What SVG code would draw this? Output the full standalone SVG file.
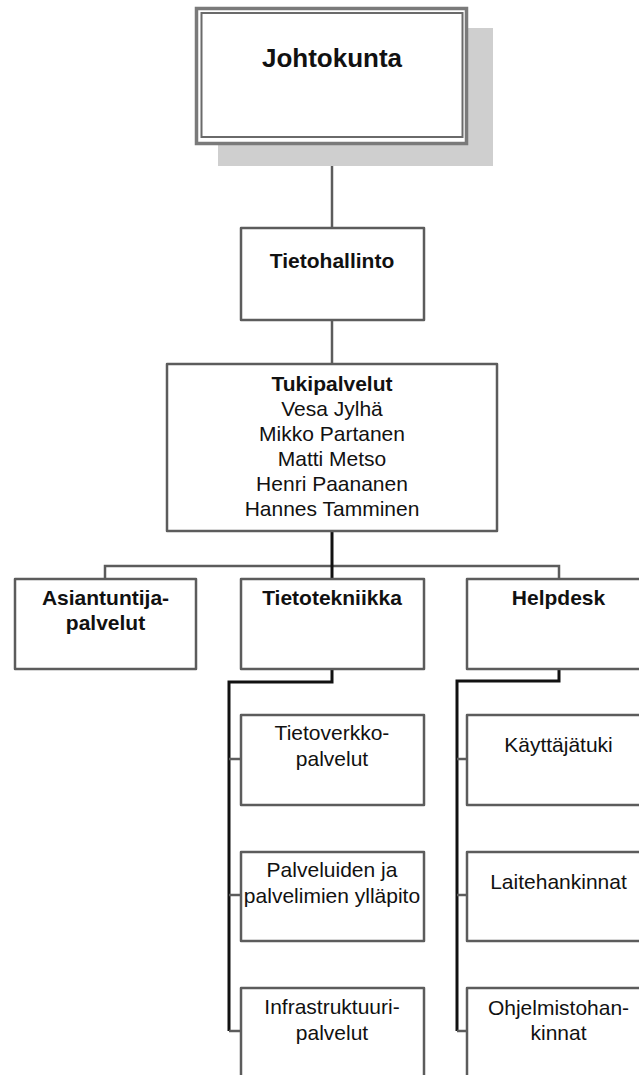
<svg xmlns="http://www.w3.org/2000/svg" width="639" height="1075" viewBox="0 0 639 1075">
  <style>
    .box { fill: #ffffff; stroke: #5c5c5c; stroke-width: 2.5; stroke-linejoin: round; }
    .link { fill: none; stroke: #5c5c5c; stroke-width: 2.5; }
    .trunk { fill: none; stroke: #111111; stroke-width: 3; stroke-linejoin: miter; }
    text { font-family: "Liberation Sans", Arial, sans-serif; font-size: 21px; fill: #111111; text-anchor: middle; }
    .b { font-weight: bold; }
    .title { font-size: 26px; font-weight: bold; }
  </style>

  <rect width="639" height="1075" fill="#ffffff"/>

  <!-- connectors -->
  <g id="connectors">
    <line class="link" x1="332" y1="144" x2="332" y2="228"/>
    <line class="link" x1="332" y1="320" x2="332" y2="364"/>
    <polyline class="link" points="105,579 105,566 559,566 559,579"/>
    <line class="trunk" x1="332" y1="531" x2="332" y2="579"/>
    <!-- Tietotekniikka branch -->
    <polyline class="trunk" points="332,669 332,682 229,682 229,1031"/>
    <line class="link" x1="229" y1="759" x2="241" y2="759"/>
    <line class="link" x1="229" y1="895" x2="241" y2="895"/>
    <line class="link" x1="229" y1="1031" x2="241" y2="1031"/>
    <!-- Helpdesk branch -->
    <polyline class="trunk" points="559,669 559,681 457,681 457,1031"/>
    <line class="link" x1="457" y1="759" x2="467" y2="759"/>
    <line class="link" x1="457" y1="895" x2="467" y2="895"/>
    <line class="link" x1="457" y1="1031" x2="467" y2="1031"/>
  </g>

  <!-- board, framed with a double border and a drop shadow -->
  <g id="johtokunta">
    <rect x="218" y="28" width="275" height="138" fill="#cfcfcf"/>
    <rect x="196.5" y="8.5" width="270" height="135" fill="#ffffff" stroke="#7a7a7a" stroke-width="3.5"/>
    <rect x="201.5" y="13" width="261" height="124" fill="none" stroke="#6a6a6a" stroke-width="2"/>
    <text class="title" x="332" y="67">Johtokunta</text>
  </g>

  <g id="tietohallinto">
    <rect class="box" x="241" y="228" width="183" height="92"/>
    <text class="b" x="332" y="268">Tietohallinto</text>
  </g>

  <g id="tukipalvelut">
    <rect class="box" x="167" y="364" width="330" height="167"/>
    <text class="b" x="332" y="391">Tukipalvelut</text>
    <text x="332" y="416">Vesa Jylhä</text>
    <text x="332" y="441">Mikko Partanen</text>
    <text x="332" y="466">Matti Metso</text>
    <text x="332" y="491">Henri Paananen</text>
    <text x="332" y="516">Hannes Tamminen</text>
  </g>

  <g id="asiantuntijapalvelut">
    <rect class="box" x="15" y="579" width="181" height="90"/>
    <text class="b" x="105.5" y="605">Asiantuntija-</text>
    <text class="b" x="105.5" y="630">palvelut</text>
  </g>

  <g id="tietotekniikka">
    <rect class="box" x="241" y="579" width="183" height="90"/>
    <text class="b" x="332" y="605">Tietotekniikka</text>
  </g>

  <g id="helpdesk">
    <rect class="box" x="467" y="579" width="183" height="90"/>
    <text class="b" x="558.5" y="605">Helpdesk</text>
  </g>

  <g id="tietoverkkopalvelut">
    <rect class="box" x="241" y="715" width="183" height="90"/>
    <text x="332" y="740">Tietoverkko-</text>
    <text x="332" y="766">palvelut</text>
  </g>

  <g id="yllapito">
    <rect class="box" x="241" y="852" width="183" height="89"/>
    <text x="332" y="877">Palveluiden ja</text>
    <text x="332" y="903">palvelimien ylläpito</text>
  </g>

  <g id="infrastruktuuripalvelut">
    <rect class="box" x="241" y="988" width="183" height="92"/>
    <text x="332" y="1014">Infrastruktuuri-</text>
    <text x="332" y="1040">palvelut</text>
  </g>

  <g id="kayttajatuki">
    <rect class="box" x="467" y="715" width="183" height="90"/>
    <text x="558.5" y="752">Käyttäjätuki</text>
  </g>

  <g id="laitehankinnat">
    <rect class="box" x="467" y="852" width="183" height="89"/>
    <text x="558.5" y="889">Laitehankinnat</text>
  </g>

  <g id="ohjelmistohankinnat">
    <rect class="box" x="467" y="988" width="183" height="92"/>
    <text x="558.5" y="1015">Ohjelmistohan-</text>
    <text x="558.5" y="1040">kinnat</text>
  </g>
</svg>
